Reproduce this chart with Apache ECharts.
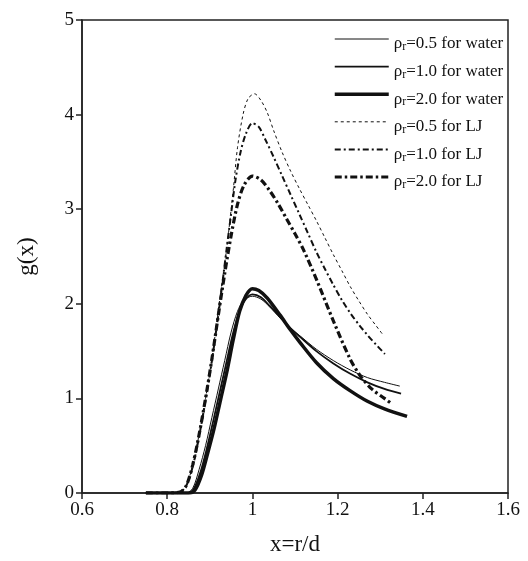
<!DOCTYPE html>
<html>
<head>
<meta charset="utf-8">
<script src="https://cdn.jsdelivr.net/npm/echarts@6/dist/echarts.min.js"></script>
<style>html,body{margin:0;padding:0;background:#fff;}#c{width:528px;height:561px;}</style>
</head>
<body>
<div id="c"></div>
<script>
// Series names
const names = ["ρr=0.5 for water","ρr=1.0 for water","ρr=2.0 for water","ρr=0.5 for LJ","ρr=1.0 for LJ","ρr=2.0 for LJ"];
// Tick values
const xTicks = [0.6,0.8,1.0,1.2,1.4,1.6];
const yTicks = [0,1,2,3,4,5];

// water rho=0.5
const w05x = [0.75,0.845,0.86,0.875,0.89,0.905,0.92,0.935,0.95,0.965,0.98,1.0,1.02,1.04,1.065,1.09,1.112,1.15,1.19,1.23,1.27,1.31,1.346];
const w05y = [0,0,0.05,0.25,0.5,0.8,1.1,1.4,1.7,1.92,2.04,2.08,2.05,1.97,1.85,1.74,1.66,1.52,1.40,1.30,1.22,1.17,1.13];
// water rho=1.0
const w10x = [0.75,0.848,0.862,0.878,0.893,0.908,0.923,0.938,0.953,0.968,0.983,1.0,1.02,1.04,1.065,1.09,1.112,1.15,1.19,1.23,1.27,1.31,1.349];
const w10y = [0,0,0.04,0.22,0.47,0.76,1.06,1.36,1.66,1.9,2.04,2.1,2.07,1.98,1.86,1.74,1.65,1.5,1.37,1.26,1.17,1.1,1.05];
// water rho=2.0
const w20x = [0.75,0.85,0.865,0.88,0.895,0.91,0.925,0.94,0.955,0.97,0.985,1.0,1.015,1.035,1.065,1.09,1.112,1.15,1.19,1.23,1.27,1.31,1.363];
const w20y = [0,0,0.03,0.18,0.42,0.68,0.98,1.28,1.62,1.92,2.09,2.16,2.14,2.06,1.88,1.72,1.59,1.38,1.21,1.08,0.97,0.89,0.81];
// LJ rho=0.5
const l05x = [0.75,0.80,0.83,0.845,0.86,0.875,0.89,0.905,0.924,0.94,0.955,0.965,0.978,0.99,1.005,1.02,1.035,1.05,1.07,1.09,1.11,1.13,1.15,1.17,1.19,1.21,1.23,1.25,1.27,1.29,1.307];
const l05y = [0,0,0.01,0.08,0.3,0.62,1.0,1.42,2.07,2.6,3.2,3.65,4.0,4.17,4.22,4.15,4.02,3.83,3.6,3.4,3.22,3.05,2.88,2.7,2.52,2.35,2.18,2.03,1.89,1.77,1.67];
// LJ rho=1.0
const l10x = [0.75,0.80,0.83,0.845,0.86,0.875,0.89,0.905,0.924,0.94,0.95,0.96,0.972,0.985,1.0,1.015,1.03,1.05,1.07,1.09,1.11,1.13,1.15,1.17,1.19,1.21,1.23,1.25,1.27,1.29,1.311];
const l10y = [0,0,0.01,0.08,0.28,0.6,0.98,1.4,2.02,2.6,2.95,3.3,3.6,3.8,3.91,3.87,3.74,3.55,3.35,3.15,2.95,2.75,2.55,2.37,2.2,2.04,1.9,1.78,1.67,1.57,1.47];
// LJ rho=2.0
const l20x = [0.75,0.80,0.83,0.845,0.86,0.875,0.89,0.905,0.92,0.935,0.95,0.965,0.98,1.0,1.02,1.04,1.06,1.08,1.1,1.12,1.152,1.19,1.229,1.253,1.28,1.31,1.328];
const l20y = [0,0,0.01,0.08,0.3,0.62,1.0,1.42,1.88,2.32,2.72,3.05,3.25,3.35,3.31,3.2,3.06,2.9,2.74,2.57,2.24,1.82,1.42,1.24,1.1,1.0,0.94];

const zip = (xs, ys) => xs.map((x, i) => [x, ys[i]]);
const dataSets = [zip(w05x,w05y), zip(w10x,w10y), zip(w20x,w20y), zip(l05x,l05y), zip(l10x,l10y), zip(l20x,l20y)];
const styles = [
  {width:1, type:'solid'},
  {width:1.8, type:'solid'},
  {width:3.5, type:'solid'},
  {width:1, type:[3,3]},
  {width:2, type:[6,3,2,3]},
  {width:3.2, type:[7,3,2.5,3]}
];

const serif = 'Liberation Serif';
const chart = echarts.init(document.getElementById('c'));
chart.setOption({
  animation: false,
  backgroundColor: '#fff',
  grid: {left: 82, right: 20, top: 20, bottom: 64, show: true, borderColor: '#222', borderWidth: 1.5, backgroundColor: 'transparent'},
  legend: {
    orient: 'vertical',
    left: 328, top: 28,
    itemWidth: 54, itemHeight: 14, itemGap: 7.6,
    data: names.map((n, i) => ({name: n, lineStyle: {width: styles[i].width, type: styles[i].type, color: '#111'}})),
    itemStyle: {opacity: 0},
    formatter: n => '{a|ρ}{s|r}{a|' + n.slice(2) + '}',
    textStyle: {
      color: '#111',
      padding: [10,0,0,0],
      rich: {
        a: {fontFamily: serif, fontSize: 17, color: '#111', lineHeight: 18},
        s: {fontFamily: serif, fontSize: 12, color: '#111', lineHeight: 18, verticalAlign: 'bottom', padding: [8,0,0,0]}
      }
    }
  },
  xAxis: {
    type: 'value', min: 0.6, max: 1.6, interval: 0.2,
    name: 'x=r/d', nameLocation: 'middle', nameGap: 40,
    nameTextStyle: {fontFamily: serif, fontSize: 23, color: '#111'},
    axisLine: {show: true, onZero: false, lineStyle: {color: '#222', width: 1.5}},
    axisTick: {show: true, length: 6, lineStyle: {color: '#222', width: 1.5}},
    axisLabel: {fontFamily: serif, fontSize: 19, color: '#111', margin: 8,
      formatter: v => String(parseFloat(v.toFixed(1)))},
    splitLine: {show: false}
  },
  yAxis: {
    type: 'value', min: 0, max: 5, interval: 1,
    name: 'g(x)', nameLocation: 'middle', nameGap: 44,
    nameTextStyle: {fontFamily: serif, fontSize: 23, color: '#111'},
    axisLine: {show: true, lineStyle: {color: '#222', width: 1.5}},
    axisTick: {show: true, length: 6, lineStyle: {color: '#222', width: 1.5}},
    axisLabel: {fontFamily: serif, fontSize: 19, color: '#111', margin: 8},
    splitLine: {show: false}
  },
  series: names.map((n, i) => ({
    name: n, type: 'line', data: dataSets[i], smooth: 0.3,
    symbol: 'none', color: '#111',
    lineStyle: {color: '#111', width: styles[i].width, type: styles[i].type}
  }))
});
</script>
</body>
</html>
